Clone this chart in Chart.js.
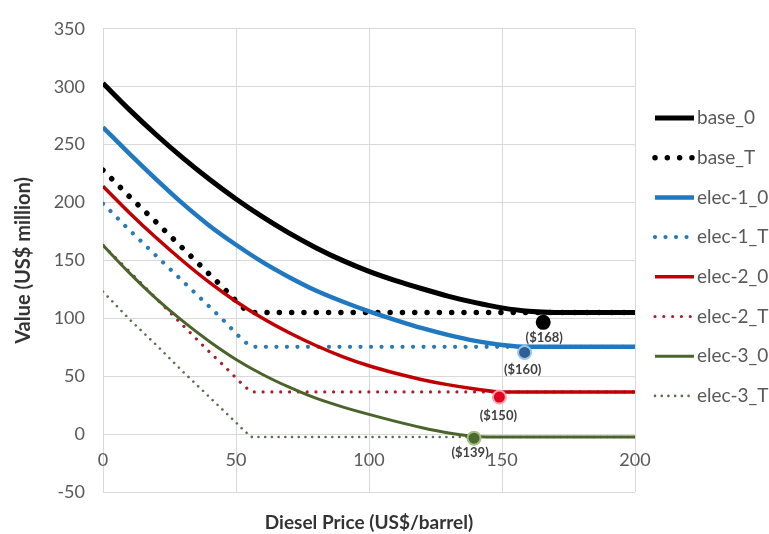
<!DOCTYPE html>
<html><head><meta charset="utf-8">
<script src="https://cdn.jsdelivr.net/npm/chart.js@4/dist/chart.umd.min.js"></script>
<style>html,body{margin:0;padding:0;background:#fff}#wrap{width:769px;height:534px}</style>
</head><body><div id="wrap"><canvas id="c" width="769" height="534"></canvas></div>
<script>
// ---- data ----
const priceSolid = [0,10,20,30,40,50,60,70,80,90,100,110,120,130,140,150,160,170,180,190,200];
const base_0  = [303,280,258.5,238.5,220,203,187.5,173.5,161,150,140.5,132.5,125.5,119,113.5,109,106,105,105,105,105];
const elec1_0 = [265,242,220,199,180,163.5,148.5,135.5,124,114.5,106,98.5,91.5,85.5,80.5,77,75.4,75.4,75.4,75.4,75.4];
const elec2_0 = [214,191,169.5,149.5,131,114.5,100,87.5,76.5,67,59,52.5,47,42.5,39,36.4,36.4,36.4,36.4,36.4,36.4];
const elec3_0 = [163,139,117,97.5,80,64.5,51.5,40.5,31,23.5,17,11,5.5,1,-2,-2.5,-2.5,-2.5,-2.5,-2.5,-2.5];

const priceDotted = [0,10,20,30,40,45,50,53,56,200];
const base_T  = [228,205,183,160.5,138,127,115,108.5,105,105];
const elec1_T = [199,176,154,132,110,99,87,80,75.4,75.4];
const elec2_T = [163,140,117,94,71,60,48.5,41.5,36.4,36.4];
const elec3_T = [123,99,77,54,32,21,10,3,-2.5,-2.5];

const seriesNames = ['base_0','base_T','elec-1_0','elec-1_T','elec-2_0','elec-2_T','elec-3_0','elec-3_T'];

const markerPrice = [165.5, 158.5, 149, 139.5];
const markerValue = [96.5, 70.5, 32, -3.5];
const markerText  = ['($168)','($160)','($150)','($139)'];

const xTicks = [0,50,100,150,200];
const yTicks = [-50,0,50,100,150,200,250,300,350];

// ---- build ----
const pts = (xs, ys) => xs.map((x,i)=>({x:x, y:ys[i]}));
const FONT = 'Lato, "Open Sans", sans-serif';

function solid(label, ys, color, w){
  return {label, data: pts(priceSolid, ys), borderColor: color, backgroundColor: color,
    borderWidth: w, pointRadius: 0, cubicInterpolationMode: 'monotone', order: 1, fill: false};
}
function dotted(label, ys, color, w, gap){
  return {label, data: pts(priceDotted, ys), borderColor: color, backgroundColor: color,
    borderWidth: w, borderDash: [0.01, gap], borderCapStyle: 'round', pointRadius: 0,
    tension: 0, order: 2, fill: false};
}

const datasets = [
  solid(seriesNames[0], base_0, '#000000', 5),
  dotted(seriesNames[1], base_T, '#000000', 5.5, 12.3),
  solid(seriesNames[2], elec1_0, '#1f78c0', 4.5),
  dotted(seriesNames[3], elec1_T, '#2a7ab3', 4.2, 10.5),
  solid(seriesNames[4], elec2_0, '#c00000', 3.5),
  dotted(seriesNames[5], elec2_T, '#a3202c', 3.2, 8.8),
  solid(seriesNames[6], elec3_0, '#4b642c', 3),
  dotted(seriesNames[7], elec3_T, '#5d6b4a', 2.6, 6.7),
  {label: 'markers', data: pts(markerPrice, markerValue), showLine: false, order: 0,
   pointRadius: 6.5, pointBorderWidth: 2,
   pointBackgroundColor: ['#000000','#2c5f92','#e3001d','#4a6b2c'],
   pointBorderColor: ['#000000','#9cc4e8','#f6a3ab','#a6bf88']}
];

const sideLegend = {
  id: 'sideLegend',
  afterDraw(chart){
    const ctx = chart.ctx;
    ctx.save();
    chart.data.datasets.slice(0,8).forEach((ds,i)=>{
      const y = 118 + i*39.7;
      ctx.strokeStyle = ds.borderColor;
      ctx.lineWidth = ds.borderWidth;
      ctx.setLineDash(ds.borderDash || []);
      ctx.lineCap = ds.borderCapStyle || 'butt';
      ctx.beginPath(); ctx.moveTo(655, y); ctx.lineTo(694, y); ctx.stroke();
      ctx.setLineDash([]);
      ctx.fillStyle = '#595959';
      ctx.font = '19px ' + FONT;
      ctx.textAlign = 'left'; ctx.textBaseline = 'middle';
      ctx.fillText(ds.label, 697, y);
    });
    ctx.restore();
  }
};

const markerLabels = {
  id: 'markerLabels',
  afterDatasetsDraw(chart){
    const ctx = chart.ctx;
    const meta = chart.getDatasetMeta(8);
    const off = [[1,15],[-2,17],[-1,19],[-4,15]];
    ctx.save();
    ctx.font = 'bold 13px ' + FONT;
    ctx.fillStyle = '#404040';
    ctx.textAlign = 'center'; ctx.textBaseline = 'middle';
    meta.data.forEach((p,i)=>{ ctx.fillText(markerText[i], p.x + off[i][0], p.y + off[i][1]); });
    ctx.restore();
  }
};

new Chart(document.getElementById('c'), {
  type: 'line',
  data: {datasets},
  plugins: [sideLegend, markerLabels],
  options: {
    responsive: false, animation: false, devicePixelRatio: 1,
    layout: {padding: {left: 0, right: 134, top: 20, bottom: 0}},
    plugins: {legend: {display: false}, tooltip: {enabled: false}},
    scales: {
      x: {type: 'linear', position: {y: 0}, min: 0, max: 200,
          afterBuildTicks: s => { s.ticks = xTicks.map(v=>({value:v})); },
          grid: {display: false, drawTicks: false}, border: {display: false},
          ticks: {padding: 15, color: '#595959', font: {family: FONT, size: 18}, maxRotation: 0}},
      x2: {type: 'linear', axis: 'x', position: 'bottom', min: 0, max: 200,
          afterBuildTicks: s => { s.ticks = xTicks.map(v=>({value:v})); },
          afterFit: s => { s.height = 42; },
          grid: {color: '#d9d9d9', lineWidth: 1, drawTicks: false}, border: {display: false},
          ticks: {display: false},
          title: {display: true, text: 'Diesel Price (US$/barrel)', color: '#333333',
                  font: {family: FONT, size: 19, weight: 'bold'}, padding: {top: 0, bottom: 0}}},
      y: {type: 'linear', position: 'left', min: -50, max: 350,
          afterBuildTicks: s => { s.ticks = yTicks.map(v=>({value:v})); },
          afterFit: s => { s.width = 103; },
          grid: {color: '#d9d9d9', lineWidth: 1, drawTicks: false}, border: {display: false},
          ticks: {padding: 18, color: '#595959', font: {family: FONT, size: 18}},
          title: {display: true, text: 'Value (US$ million)', color: '#333333',
                  font: {family: FONT, size: 20, weight: 'bold'}, padding: {top: 12, bottom: 0}}}
    }
  }
});
</script></body></html>
